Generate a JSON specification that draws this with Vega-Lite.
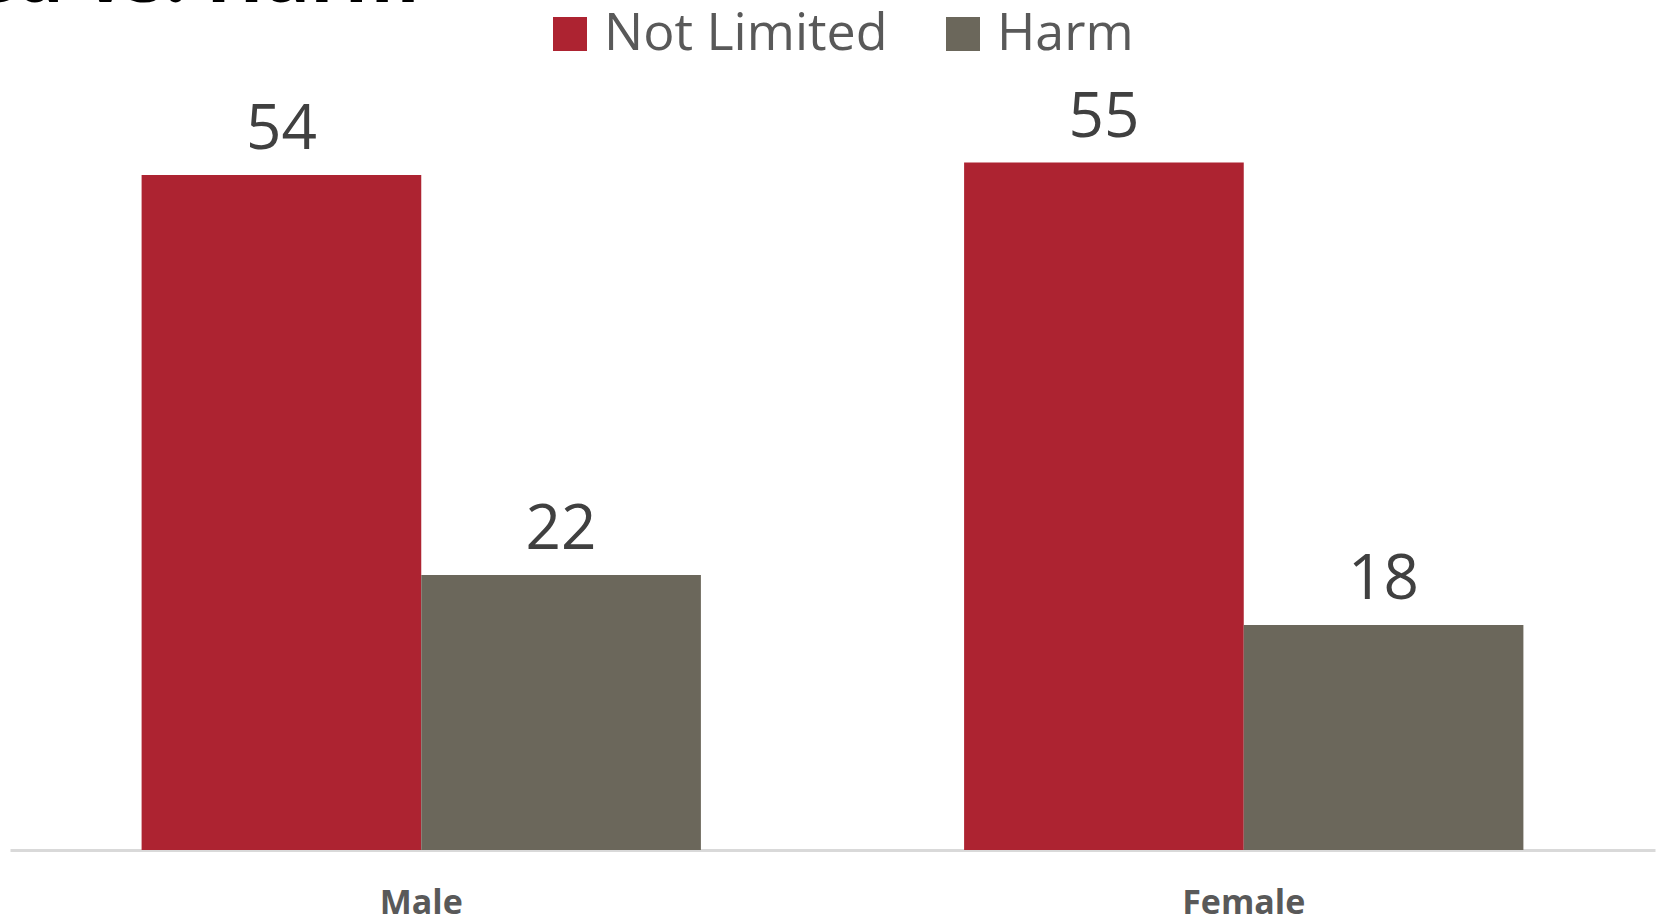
{
  "$schema": "https://vega.github.io/schema/vega-lite/v6.json",
  "width": 1645,
  "height": 750,
  "autosize": {"type": "none"},
  "padding": {"left": 10, "top": 100, "right": 11, "bottom": 72},
  "background": "white",
  "title": {
    "text": "Limited vs. Harm",
    "anchor": "start",
    "frame": "group",
    "font": "Open Sans",
    "fontSize": 76,
    "fontWeight": "bold",
    "color": "#000000",
    "dx": -236,
    "dy": 70,
    "baseline": "alphabetic",
    "offset": 0
  },
  "data": {
    "values": [
      {"gender": "Male", "series": "Not Limited", "value": 54},
      {"gender": "Male", "series": "Harm", "value": 22},
      {"gender": "Female", "series": "Not Limited", "value": 55},
      {"gender": "Female", "series": "Harm", "value": 18}
    ]
  },
  "encoding": {
    "x": {
      "field": "gender",
      "type": "nominal",
      "sort": ["Male", "Female"],
      "scale": {"paddingInner": 0.32, "paddingOuter": 0.16},
      "axis": {
        "title": null,
        "labelAngle": 0,
        "labelFont": "Open Sans",
        "labelFontWeight": "bold",
        "labelFontSize": 34,
        "labelColor": "#595959",
        "labelPadding": 36,
        "ticks": false,
        "domainColor": "#D9D9D9",
        "domainWidth": 3,
        "grid": false
      }
    },
    "xOffset": {
      "field": "series",
      "sort": ["Not Limited", "Harm"],
      "scale": {"paddingInner": 0, "paddingOuter": 0}
    },
    "y": {
      "field": "value",
      "type": "quantitative",
      "scale": {"domain": [0, 60]},
      "axis": null
    }
  },
  "layer": [
    {
      "mark": {"type": "bar"},
      "encoding": {
        "color": {
          "field": "series",
          "type": "nominal",
          "sort": ["Not Limited", "Harm"],
          "scale": {"domain": ["Not Limited", "Harm"], "range": ["#AD2331", "#6B675B"]},
          "legend": {
            "title": null,
            "orient": "none",
            "direction": "horizontal",
            "legendX": 534,
            "legendY": -92,
            "symbolType": "square",
            "symbolSize": 1156,
            "symbolStrokeWidth": 0,
            "labelFont": "Open Sans",
            "labelFontSize": 52,
            "labelColor": "#595959",
            "labelOffset": 8,
            "labelLimit": 0,
            "columnPadding": 49
          }
        }
      }
    },
    {
      "mark": {
        "type": "text",
        "baseline": "alphabetic",
        "dy": -26,
        "font": "Open Sans",
        "fontSize": 62,
        "color": "#404040"
      },
      "encoding": {"text": {"field": "value", "type": "quantitative"}}
    }
  ],
  "config": {"view": {"stroke": null}}
}
